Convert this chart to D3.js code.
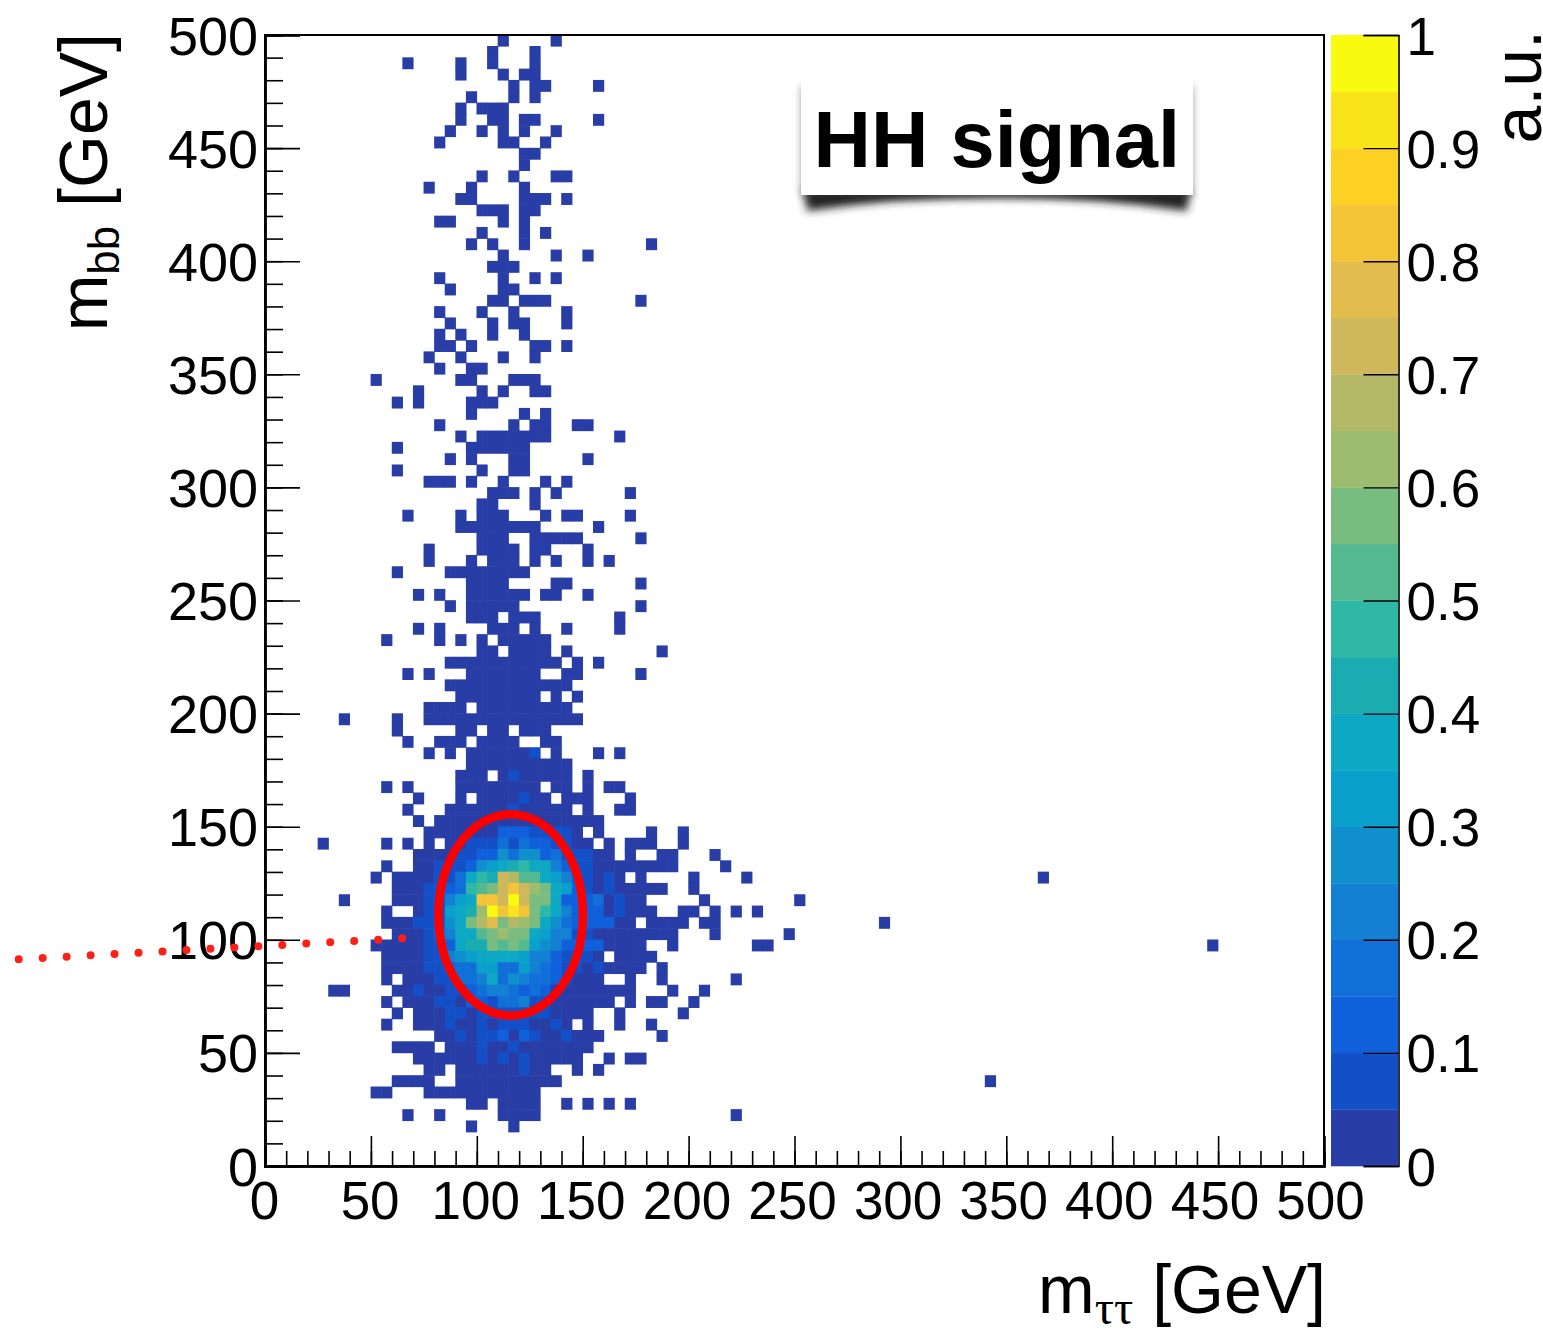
<!DOCTYPE html>
<html>
<head>
<meta charset="utf-8">
<script src="https://cdn.jsdelivr.net/npm/d3@7"></script>
<style>
  body { margin: 0; background: #fff; }
  text { font-family: "Liberation Sans", sans-serif; fill: #000; }
</style>
</head>
<body>
<svg id="chart"></svg>
<script>
// occupied x bins (5 GeV wide) per row, top row first: bin number or [first, last]
let rowBins = [
  [22, 27], [21, 25], [13, 18, 21, 25], [18, 22, [24, 25]], [23, [25, 26], 31],
  [19, 23, 25], [18, [20, 22]], [18, [21, 22], [24, 25], 31], [17, 20, 22, 24, 27], [16, [22, 23], 26],
  [[24, 25]], [24], [20, 23, [27, 28]], [15, 19, 24], [[18, 19], [24, 26], 28],
  [[20, 22], [24, 25]], [[16, 17], 22, 24], [20, 24, 26], [19, 21, 24, 36], [22, 27, 30],
  [[21, 23]], [16, 22, 25, 27], [17, [22, 23]], [[21, 22], [24, 26], 35], [16, 20, 23, 28],
  [17, 21, [23, 24], 28], [16, 18, 21, 24], [[16, 17], 19, [25, 26], 28], [15, 18, 22, 25], [16, [19, 20]],
  [10, [18, 19], [23, 25]], [14, 20, 22, [25, 26]], [12, 14, [19, 21]], [19, 24, 26], [16, 23, [25, 26], [29, 30]],
  [18, [20, 26], 33], [12, [19, 24]], [17, 19, [23, 24], 30], [12, 20, [23, 24]], [[15, 17], 19, 22, 26, 28],
  [[21, 23], 25, 27, 34], [[20, 21], 25], [13, 18, [20, 22], 26, [28, 29], 34], [[18, 25], 31], [[20, 22], [25, 29], 35],
  [15, [20, 23], [25, 26], 30], [15, 19, [21, 23], 25, 27, 30, 32], [12, [17, 24]], [[19, 22], [27, 28], 35], [14, 16, [19, 24], [26, 27], 30],
  [17, [19, 23], 35], [[19, 21], [23, 25], 33], [14, 16, [21, 23], 25, 28, 33], [11, 16, 18, 20, [22, 26]], [[20, 21], [23, 26], 28, 37],
  [[17, 27], 29, 31], [13, 15, [19, 25], [28, 29], 35], [[17, 28]], [[18, 25], 27, 29], [[15, 18], [20, 28]],
  [7, 12, [15, 29]], [12, [18, 19], [21, 22], [24, 26]], [13, [16, 18], [20, 23], [26, 27]], [15, 17, [19, 25], 27, 31, 33], [[19, 28]],
  [[18, 20], [22, 28], 30], [11, 13, [18, 25], [27, 28], 30, [32, 33]], [14, 18, [20, 26], [28, 30], 34], [13, [17, 28], 30, [33, 34]], [14, [16, 31]],
  [[15, 29], 31, 36, 39], [5, 11, 13, 15, [17, 30], 32, [34, 36], 39], [[14, 32], 34, [37, 38], 42], [11, [14, 38], 43], [10, [12, 33], 35, 40, 45, 73],
  [[12, 37], 40], [7, [12, 35], 41, 50], [11, [14, 36], [39, 40], 42, 44, 46], [[11, 34], [36, 39], [41, 42], 58], [[12, 38], 42, 49],
  [[10, 35], 38, [46, 47], 89], [[11, 31], [33, 36]], [[11, 35], 37], [11, [13, 31], 34, 37, 44], [[6, 7], [12, 34], 38, 41],
  [11, [13, 32], 34, [36, 37], 40], [12, [14, 30], 33, 39], [11, [14, 28], 30, 33, 36], [[16, 31], 37], [[12, 15], [17, 30]],
  [[14, 29], 32, [34, 35]], [[15, 16], [18, 26], 29, 31], [[12, 15], [18, 27], 68], [[10, 11], [15, 25]], [[19, 20], [22, 25], 28, 30, 32, 34],
  [13, 16, [22, 25], 44], [19, 23]
];

// a.u. content above the first band, read row by row
let coreRows = [63, 65, 67, 68, 70, 71, 72, 73, 74, 75, 76, 77, 78, 79, 80, 81, 82, 83, 84, 85, 86, 87, 88, 89, 90, 91];
let coreFirstBin = [25, 23, 24, 23, 22, 19, 18, 16, 16, 15, 15, 15, 14, 15, 15, 15, 15, 16, 14, 16, 17, 17, 18, 20, 20, 24];
let coreValues = [
  [.07],
  [.07],
  [.07],
  [.07],
  [.12, .12, .12, .07, .07, .07, .07],
  [.07, .07, .07, .17, .07, .17, .12, .12, .07, .07],
  [.07, .07, .12, .12, .27, .17, .27, .27, .12, .17, .07, .07, .07],
  [.07, .07, .07, .12, .27, .32, .37, .42, .47, .37, .37, .22, .12, .07, .07],
  [.07, .07, .17, .37, .47, .42, .72, .67, .52, .52, .37, .32, .22, .12, .07, .02, .07],
  [.07, .07, .12, .17, .47, .52, .57, .72, .82, .72, .62, .57, .37, .32, .12, .07, .02, .07],
  [.07, .07, .22, .32, .37, .82, .82, .72, .97, .72, .57, .57, .37, .12, .12, .12, .17, .02, .07],
  [.07, .07, .32, .37, .42, .62, .97, .82, .92, .82, .57, .47, .37, .22, .12, .12, .12, .02, .07],
  [.07, .07, .07, .27, .37, .57, .67, .77, .57, .67, .62, .57, .37, .27, .17, .12, .12, .12, .12],
  [.07, .12, .22, .37, .37, .52, .57, .62, .57, .57, .37, .32, .22, .22, .07, .07],
  [.07, .07, .12, .37, .42, .42, .57, .52, .57, .52, .32, .27, .22, .12, .12, .12, .12],
  [.07, .07, .22, .27, .32, .37, .37, .37, .37, .32, .22, .22, .12, .07, .07, .07],
  [.07, .07, .12, .17, .17, .32, .32, .17, .17, .32, .22, .17, .12, .07, .07, .02, .07],
  [.07, .07, .17, .17, .22, .37, .17, .27, .22, .17, .17, .12, .07],
  [.07, .02, .02, .07, .07, .12, .17, .22, .22, .17, .12, .17, .12],
  [.07, .07, .02, .12, .12, .07, .17, .17, .22, .07, .07],
  [.07, .07, .02, .07, .07, .07, .07, .07, .07, .07],
  [.07, .02, .02, .07, .02, .07, .07, .07, .02, .02, .07],
  [.07, .02, .07, .07, .12, .02, .12, .07, .02, .02, .07],
  [.07, .02, .02, .07],
  [.07, .02, .07, .02, .07],
  [.07]
];

let axisTicks = d3.range(0, 501, 50);
let minorTicks = d3.range(0, 501, 10);
let zTicks = d3.range(0, 1.01, 0.1);
let zEdges = d3.range(0, 1.001, 0.05);
let bandColors = ['#283da6', '#1350c8', '#1060dc', '#1170d8', '#1480d4', '#0f90cc', '#0ba0cc', '#0ca8c4', '#1aacb0', '#30b8a6',
  '#54b990', '#78bc80', '#9cbc70', '#b4b968', '#cfb85c', '#e2bc4c', '#f3c338', '#fdd024', '#f9e31a', '#f8fb10'];

let svgWidth = 1543,
    svgHeight = 1329,
    binSize = 5,
    topBinEdge = 495,
    cellOverlap = 0.6,
    fontSize = 53,
    titleSize = 68;

let xScale = d3.scaleLinear().domain([0, 500]).range([265, 1324]);
let yScale = d3.scaleLinear().domain([0, 500]).range([1166, 35]);
let zScale = d3.scaleLinear().domain([0, 1]).range([1166, 35]);
let colorScale = d3.scaleThreshold().domain(zEdges.slice(1, -1)).range(bandColors);

// flatten rows into cells
let lookup = new Map();
coreRows.forEach((row, i) => {
  coreValues[i].forEach((v, j) => lookup.set(row + '_' + (coreFirstBin[i] + j), v));
});
let cells = [];
rowBins.forEach((bins, row) => {
  bins.forEach(b => {
    let first = Array.isArray(b) ? b[0] : b;
    let last = Array.isArray(b) ? b[1] : b;
    for (let c = first; c <= last; c++) {
      cells.push({ x: c * binSize, y: topBinEdge - row * binSize, v: lookup.get(row + '_' + c) || 0.02 });
    }
  });
});

let svg = d3.select('#chart')
    .attr('width', svgWidth)
    .attr('height', svgHeight)
    .style('display', 'block');

let defs = svg.append('defs');
defs.append('filter').attr('id', 'soft').attr('x', '-10%').attr('y', '-50%').attr('width', '120%').attr('height', '200%')
    .append('feGaussianBlur').attr('stdDeviation', 4);
defs.append('filter').attr('id', 'softer').attr('x', '-10%').attr('y', '-30%').attr('width', '120%').attr('height', '160%')
    .append('feGaussianBlur').attr('stdDeviation', 4);

// histogram cells
svg.append('g').selectAll('rect')
    .data(cells)
    .enter()
    .append('rect')
    .attr('x', d => xScale(d.x) - cellOverlap / 2)
    .attr('y', d => yScale(d.y + binSize) - cellOverlap / 2)
    .attr('width', d => xScale(d.x + binSize) - xScale(d.x) + cellOverlap)
    .attr('height', d => yScale(d.y) - yScale(d.y + binSize) + cellOverlap)
    .attr('fill', d => colorScale(d.v));

// frame
svg.append('rect')
    .attr('x', xScale(0))
    .attr('y', yScale(500))
    .attr('width', xScale(500) - xScale(0))
    .attr('height', yScale(0) - yScale(500))
    .attr('fill', 'none')
    .attr('stroke', '#000')
    .attr('stroke-width', 2);

// x axis, ticks point up into the frame
let xMinor = d3.axisTop(xScale).tickValues(minorTicks).tickSize(15).tickFormat('');
let xMajor = d3.axisTop(xScale).tickValues(axisTicks).tickSize(30).tickFormat(d3.format('d'));
svg.append('g').attr('transform', `translate(0,${yScale(0)})`).call(xMinor);
let gx = svg.append('g').attr('transform', `translate(0,${yScale(0)})`).call(xMajor);
gx.selectAll('text')
    .attr('y', 53)
    .attr('dy', 0)
    .attr('x', d => -1 - d * 0.006)
    .style('font-size', fontSize + 'px');

// y axis, ticks point right into the frame
let yMinor = d3.axisRight(yScale).tickValues(minorTicks).tickSize(18).tickFormat('');
let yMajor = d3.axisRight(yScale).tickValues(axisTicks).tickSize(35).tickFormat(d3.format('d'));
svg.append('g').attr('transform', `translate(${xScale(0)},0)`).call(yMinor);
let gy = svg.append('g').attr('transform', `translate(${xScale(0)},0)`).call(yMajor);
gy.selectAll('text').attr('x', -7).attr('dy', 19).attr('text-anchor', 'end').style('font-size', '54px');

svg.selectAll('.tick line').attr('stroke', '#000').attr('stroke-width', 1.6);
svg.selectAll('.domain').attr('stroke', '#000').attr('stroke-width', 2.4);

// colour bar
svg.append('g').selectAll('rect')
    .data(bandColors)
    .enter()
    .append('rect')
    .attr('x', 1331)
    .attr('y', (d, i) => zScale(zEdges[i + 1]))
    .attr('width', 67)
    .attr('height', (d, i) => zScale(zEdges[i]) - zScale(zEdges[i + 1]) + 0.3)
    .attr('fill', d => d);

let zAxis = d3.axisLeft(zScale).tickValues(zTicks).tickSize(35).tickFormat(d3.format('~g'));
let gz = svg.append('g').attr('transform', 'translate(1398.5,0)').call(zAxis);
gz.selectAll('line').attr('stroke', '#000').attr('stroke-width', 1.4);
gz.select('.domain').attr('stroke', '#000').attr('stroke-width', 1.6);
gz.selectAll('text').attr('x', 8).attr('dy', 19).attr('text-anchor', 'start').style('font-size', fontSize + 'px');

// axis titles
let xTitle = svg.append('text')
    .attr('x', 1326)
    .attr('y', 1313)
    .attr('text-anchor', 'end')
    .style('font-size', titleSize + 'px');
xTitle.append('tspan').text('m');
xTitle.append('tspan').text('ττ').attr('dy', 11).style('font-size', '48px').style('font-family', '"Liberation Serif", serif');
xTitle.append('tspan').text(' [GeV]').attr('dy', -11);

let yTitle = svg.append('text')
    .attr('transform', 'translate(107,33) rotate(-90)')
    .attr('text-anchor', 'end')
    .style('font-size', titleSize + 'px');
yTitle.append('tspan').text('m');
yTitle.append('tspan').text('bb').attr('dy', 12).style('font-size', '44px');
yTitle.append('tspan').text(' [GeV]').attr('dy', -12);

svg.append('text')
    .attr('transform', 'translate(1541,30) rotate(-90)')
    .attr('text-anchor', 'end')
    .style('font-size', titleSize + 'px')
    .text('a.u.');

// HH signal box with its curled shadow
let box = { x: 801, y: 78, w: 392, h: 117 };
svg.append('rect')
    .attr('x', box.x + 1).attr('y', box.y + 8).attr('width', box.w - 2).attr('height', box.h - 6)
    .attr('fill', '#8a8a8a').attr('filter', 'url(#softer)');
svg.append('path')
    .attr('d', `M${box.x + 3},${box.y + box.h - 6} L${box.x + 6},${box.y + box.h + 16} Q${box.x + box.w / 2},${box.y + box.h - 12} ${box.x + box.w - 6},${box.y + box.h + 16} L${box.x + box.w - 3},${box.y + box.h - 6} Z`)
    .attr('fill', '#222').attr('filter', 'url(#soft)');
svg.append('rect')
    .attr('x', box.x).attr('y', box.y).attr('width', box.w).attr('height', box.h)
    .attr('fill', '#fff');
svg.append('text')
    .attr('x', 813.5)
    .attr('y', 167)
    .style('font-size', '79.5px')
    .style('font-weight', 'bold')
    .text('HH signal');

// signal region and its pointer
svg.append('ellipse')
    .attr('cx', xScale(116))
    .attr('cy', yScale(111))
    .attr('rx', xScale(34.1) - xScale(0))
    .attr('ry', yScale(0) - yScale(44.5))
    .attr('fill', 'none')
    .attr('stroke', '#fe0000')
    .attr('stroke-width', 8.5);

svg.append('line')
    .attr('x1', 18.7).attr('y1', 959.3)
    .attr('x2', 402.5).attr('y2', 938.3)
    .attr('stroke', '#ff2015')
    .attr('stroke-width', 8)
    .attr('stroke-linecap', 'round')
    .attr('stroke-dasharray', '0 24');
</script>
</body>
</html>
